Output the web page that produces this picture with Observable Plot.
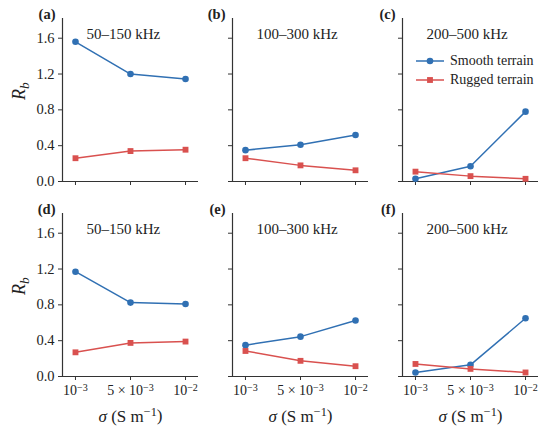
<!DOCTYPE html>
<html>
<head>
<meta charset="utf-8">
<script src="https://cdn.jsdelivr.net/npm/d3@7"></script>
<script src="https://cdn.jsdelivr.net/npm/@observablehq/plot@0.6"></script>
<style>
  body { margin: 0; background: #fff; }
  #wrap { position: relative; width: 550px; height: 435px; color: #222; }
  #legend { position: absolute; left: 415px; top: 51px; font-size: 14px; line-height: 19px; font-family: 'Liberation Serif'; }
  #legend .row { display: flex; align-items: center; height: 19px; }
  #legend svg { margin-right: 5px; }
</style>
</head>
<body>
<div id="wrap"><div id="legend"></div></div>
<script>
// ---- data ----
const sigma = ["10⁻³", "5 × 10⁻³", "10⁻²"];
const bands = ["50–150 kHz", "100–300 kHz", "200–500 kHz"];
const rowKeys = ["r1", "r2"];
const letters = [["(a)", "(b)", "(c)"], ["(d)", "(e)", "(f)"]];
const series = ["Smooth terrain", "Rugged terrain"];
const colors = ["#3070b3", "#d9514f"];
const symbols = ["circle", "square"];
const yTicks = [0, 0.4, 0.8, 1.2, 1.6];
const yLabel = "Rb";
const xLabel = "σ (S m⁻¹)";

// rows: top row (a–c), bottom row (d–f); each inner array = one panel, values at the 3 σ
const smoothR1 = [[1.56, 1.20, 1.145], [0.35, 0.41, 0.52], [0.03, 0.17, 0.78]];
const ruggedR1 = [[0.26, 0.34, 0.355], [0.26, 0.18, 0.125], [0.11, 0.06, 0.03]];
const smoothR2 = [[1.17, 0.825, 0.81], [0.35, 0.445, 0.625], [0.045, 0.13, 0.65]];
const ruggedR2 = [[0.27, 0.375, 0.39], [0.285, 0.175, 0.115], [0.14, 0.085, 0.045]];

// ---- build tables ----
const table = [];
[[smoothR1, ruggedR1], [smoothR2, ruggedR2]].forEach((pair, ri) =>
  pair.forEach((panels, si) =>
    panels.forEach((vals, ci) =>
      vals.forEach((v, xi) => table.push({row: rowKeys[ri], col: bands[ci], series: series[si], xi, v})))));

const panels = [];
rowKeys.forEach((r, ri) => bands.forEach((b, ci) => panels.push({row: r, col: b, band: b, letter: letters[ri][ci], ci, ri})));
const leftPanels = panels.filter(d => d.ci === 0).map(d => ({...d, label: yLabel}));
const bottomPanels = panels.filter(d => d.ri === rowKeys.length - 1).map(d => ({...d, label: xLabel}));

const xPad = 0.236;
const xDomain = [-xPad, sigma.length - 1 + xPad];
const axisColor = "#333";
const FF = "Liberation Serif";

const chart = Plot.plot({
  width: 550,
  height: 435,
  marginLeft: 61,
  marginRight: 12,
  marginTop: 18,
  marginBottom: 58,
  style: {fontFamily: FF, fontSize: "14px", color: "#222", background: "white", overflow: "visible"},
  fx: {domain: bands, padding: 0.2023, axis: null},
  fy: {domain: rowKeys, padding: 0.1637, axis: null},
  x: {domain: xDomain},
  y: {domain: [0, 1.82]},
  color: {domain: series, range: colors},
  symbol: {domain: series, range: symbols},
  marks: [
    // spines
    Plot.ruleY([0], {stroke: axisColor, strokeWidth: 1.2}),
    Plot.ruleX([xDomain[0]], {stroke: axisColor, strokeWidth: 1.2}),
    // tick marks on every panel
    Plot.axisY({ticks: yTicks, tickSize: 4, tickFormat: () => "", facetAnchor: null, label: null, stroke: axisColor}),
    Plot.axisX({ticks: [0, 1, 2], tickSize: 4, tickFormat: () => "", facetAnchor: null, label: null, stroke: axisColor}),
    // tick labels on the outer panels
    Plot.axisY({ticks: yTicks, tickSize: 0, tickPadding: 8, tickFormat: d3.format(".1f"), facetAnchor: "left", label: null, fontSize: 14.5, fontFamily: FF, fill: "#222"}),
    Plot.axisX({ticks: [0, 1, 2], tickSize: 0, tickPadding: 9, tickFormat: i => sigma[i], facetAnchor: "bottom", label: null, fontSize: 14, fontFamily: FF, fill: "#222"}),
    // data
    Plot.line(table, {fx: "col", fy: "row", x: "xi", y: "v", z: "series", stroke: "series", strokeWidth: 1.5}),
    Plot.dot(table, {fx: "col", fy: "row", x: "xi", y: "v", fill: "series", symbol: "series", r: 3.3}),
    // annotations
    Plot.text(panels, {fx: "col", fy: "row", text: "band", frameAnchor: "top-left", textAnchor: "start", lineAnchor: "top", dx: 24, dy: 9.5, fontSize: 15, fontFamily: FF, fill: "#222"}),
    Plot.text(panels, {fx: "col", fy: "row", text: "letter", frameAnchor: "top-left", textAnchor: "end", lineAnchor: "bottom", dx: -7, dy: 0, fontSize: 14.5, fontWeight: "bold", fontFamily: FF, fill: "#222"}),
    Plot.text(leftPanels, {fx: "col", fy: "row", text: "label", frameAnchor: "left", rotate: -90, dx: -43, fontSize: 18, fontFamily: FF, fill: "#222"}),
    Plot.text(bottomPanels, {fx: "col", fy: "row", text: "label", frameAnchor: "bottom", lineAnchor: "bottom", dy: 45, fontSize: 17, fontFamily: FF, fill: "#222"})
  ]
});

// ---- math-style typesetting of texts (superscripts, italics, subscript) ----
const supMap = {"⁻": "−", "¹": "1", "²": "2", "³": "3"};
const isSup = c => c in supMap;
function typeset(node, italicFirst) {
  const t = node.textContent;
  const runs = [];
  for (const c of t) {
    const s = isSup(c);
    if (runs.length && runs[runs.length - 1].sup === s) runs[runs.length - 1].text += s ? supMap[c] : c;
    else runs.push({sup: s, text: s ? supMap[c] : c});
  }
  const sel = d3.select(node); sel.text("");
  let raised = false;
  runs.forEach((r, k) => {
    let txt = r.text;
    if (k === 0 && italicFirst) {
      sel.append("tspan").attr("font-style", "italic").text(txt[0]);
      txt = txt.slice(1);
      if (!txt) return;
    }
    const sp = sel.append("tspan").text(txt);
    if (r.sup) { sp.attr("font-size", "72%").attr("dy", "-0.42em"); raised = true; }
    else if (raised) { sp.attr("dy", "0.3em"); raised = false; }
  });
}
d3.select(chart).selectAll("text").attr("font-family", FF).each(function () {
  const t = this.textContent;
  if (t === yLabel) {
    const s = d3.select(this); s.text("");
    s.append("tspan").attr("font-style", "italic").text("R");
    s.append("tspan").attr("font-style", "italic").attr("font-size", "75%").attr("dy", "0.3em").text("b");
  } else if (t === xLabel) {
    typeset(this, true);
  } else if (/[⁻¹²³]/.test(t)) {
    typeset(this, false);
  }
});

document.getElementById("wrap").prepend(chart);

// legend (inside panel c)
const legend = d3.select("#legend");
series.forEach((s, i) => {
  const row = legend.append("div").attr("class", "row");
  const g = row.append("svg").attr("width", 30).attr("height", 12);
  g.append("line").attr("x1", 1).attr("x2", 29).attr("y1", 6).attr("y2", 6).attr("stroke", colors[i]).attr("stroke-width", 1.5);
  g.append("path").attr("transform", "translate(15,6)").attr("fill", colors[i])
    .attr("d", d3.symbol(i === 0 ? d3.symbolCircle : d3.symbolSquare, Math.PI * 3.3 * 3.3)());
  row.append("span").text(s);
});
</script>
</body>
</html>
